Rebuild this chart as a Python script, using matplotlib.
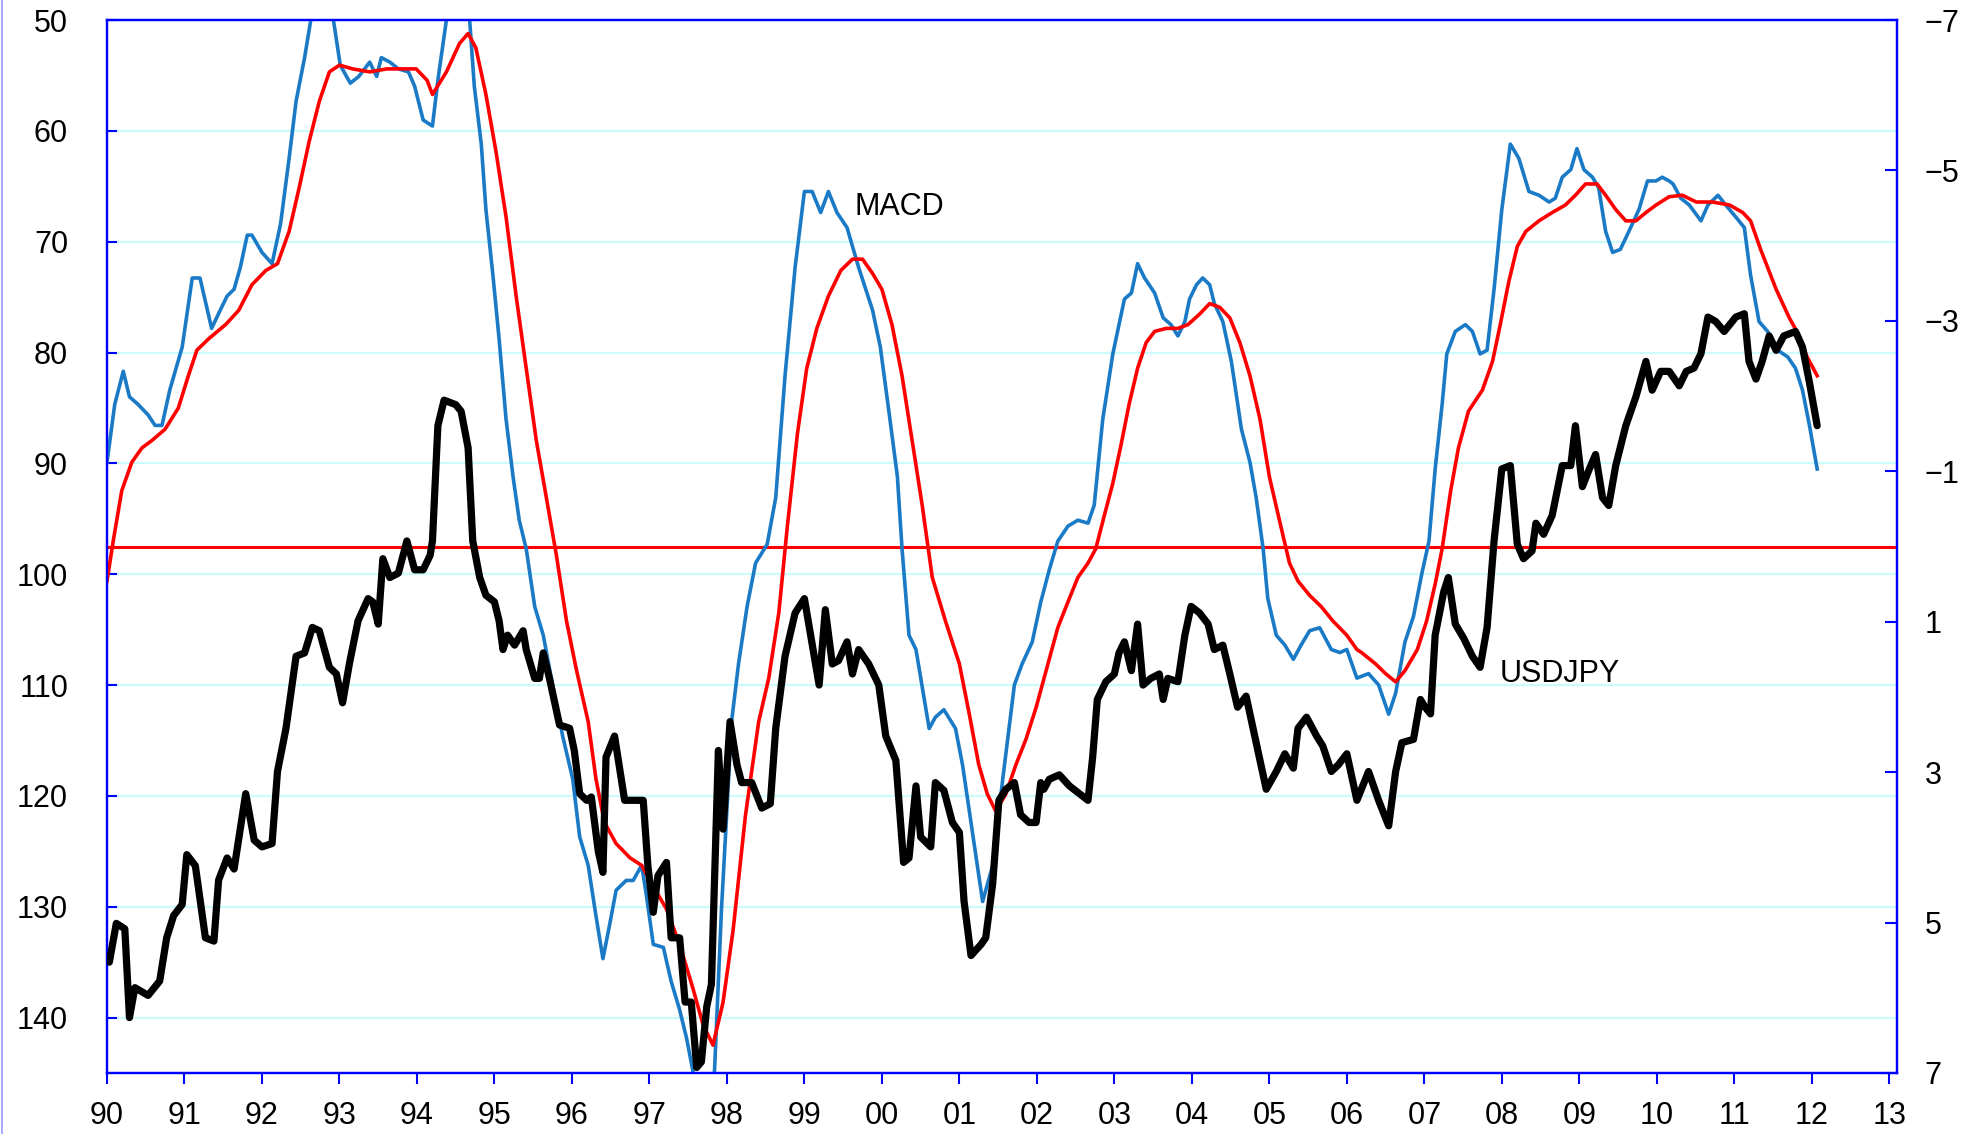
import matplotlib
matplotlib.use("Agg")
import matplotlib.pyplot as plt

# USDJPY (left axis, yen per dollar, inverted)
jpy_t = [1990.00, 1990.03, 1990.12, 1990.23, 1990.29, 1990.36, 1990.53, 1990.68, 1990.77, 1990.86,
         1990.97, 1991.03, 1991.14, 1991.27, 1991.38, 1991.44, 1991.55, 1991.64, 1991.79, 1991.90,
         1992.00, 1992.13, 1992.20, 1992.31, 1992.44, 1992.55, 1992.65, 1992.74, 1992.87, 1992.96,
         1993.04, 1993.13, 1993.24, 1993.37, 1993.43, 1993.50, 1993.56, 1993.65, 1993.76, 1993.87,
         1993.97, 1994.08, 1994.17, 1994.20, 1994.27, 1994.35, 1994.50, 1994.57, 1994.66, 1994.72,
         1994.81, 1994.89, 1995.00, 1995.06, 1995.11, 1995.17, 1995.26, 1995.37, 1995.41, 1995.52,
         1995.58, 1995.63, 1995.71, 1995.84, 1995.97, 1996.03, 1996.10, 1996.19, 1996.25, 1996.34,
         1996.40, 1996.44, 1996.55, 1996.68, 1996.79, 1996.92, 1996.98, 1997.05, 1997.11, 1997.22,
         1997.28, 1997.39, 1997.46, 1997.54, 1997.61, 1997.67, 1997.74, 1997.80, 1997.89, 1997.95,
         1998.04, 1998.13, 1998.19, 1998.32, 1998.45, 1998.56, 1998.63, 1998.75, 1998.88, 1999.00,
         1999.08, 1999.19, 1999.27, 1999.36, 1999.44, 1999.55, 1999.62, 1999.70, 1999.83, 1999.96,
         2000.05, 2000.18, 2000.28, 2000.35, 2000.44, 2000.50, 2000.63, 2000.69, 2000.80, 2000.91,
         2001.00, 2001.06, 2001.15, 2001.28, 2001.34, 2001.43, 2001.51, 2001.60, 2001.71, 2001.79,
         2001.90, 2001.99, 2002.05, 2002.09, 2002.16, 2002.29, 2002.42, 2002.55, 2002.66, 2002.72,
         2002.78, 2002.89, 2003.00, 2003.06, 2003.13, 2003.22, 2003.30, 2003.37, 2003.47, 2003.58,
         2003.63, 2003.69, 2003.82, 2003.91, 2003.99, 2004.10, 2004.21, 2004.29, 2004.40, 2004.49,
         2004.59, 2004.70, 2004.83, 2004.96, 2005.09, 2005.20, 2005.31, 2005.37, 2005.48, 2005.61,
         2005.69, 2005.80, 2005.89, 2006.00, 2006.13, 2006.28, 2006.41, 2006.54, 2006.63, 2006.71,
         2006.86, 2006.95, 2007.01, 2007.08, 2007.14, 2007.25, 2007.31, 2007.40, 2007.51, 2007.62,
         2007.72, 2007.81, 2007.90, 2008.00, 2008.11, 2008.20, 2008.28, 2008.39, 2008.44, 2008.54,
         2008.65, 2008.78, 2008.89, 2008.95, 2009.04, 2009.13, 2009.21, 2009.30, 2009.38, 2009.47,
         2009.60, 2009.73, 2009.86, 2009.94, 2010.05, 2010.16, 2010.29, 2010.38, 2010.48, 2010.57,
         2010.66, 2010.76, 2010.87, 2011.02, 2011.13, 2011.19, 2011.28, 2011.36, 2011.45, 2011.54,
         2011.64, 2011.79, 2011.88, 2011.97, 2012.07]
jpy_v = [134.7, 135.0, 131.5, 132.0, 140.0, 137.3, 138.0, 136.7, 132.8, 130.8,
         129.8, 125.3, 126.3, 132.8, 133.1, 127.6, 125.6, 126.6, 119.8, 124.0,
         124.6, 124.3, 117.8, 113.9, 107.4, 107.1, 104.8, 105.1, 108.4, 109.0,
         111.6, 108.0, 104.2, 102.2, 102.5, 104.5, 98.6, 100.3, 99.9, 97.0,
         99.6, 99.6, 98.3, 97.0, 86.6, 84.3, 84.7, 85.3, 88.6, 97.0,
         100.3, 101.9, 102.5, 104.2, 106.8, 105.5, 106.4, 105.1, 106.8, 109.4,
         109.4, 107.1, 109.4, 113.6, 113.9, 115.9, 119.8, 120.4, 120.1, 125.0,
         126.9, 116.5, 114.6, 120.4, 120.4, 120.4, 126.3, 130.5, 127.2, 126.0,
         132.8, 132.8, 138.6, 138.6, 144.5, 144.0, 139.0, 137.0, 115.9, 123.0,
         113.3, 117.2, 118.8, 118.8, 121.1, 120.7, 113.9, 107.4, 103.5, 102.2,
         105.5, 110.0, 103.2, 108.1, 107.8, 106.1, 109.0, 106.8, 108.1, 110.0,
         114.6, 116.8, 126.0, 125.6, 119.1, 123.7, 124.6, 118.8, 119.5, 122.4,
         123.3, 129.5, 134.4, 133.4, 132.8, 127.9, 120.4, 119.4, 118.8, 121.7,
         122.4, 122.4, 118.8, 119.4, 118.5, 118.1, 119.1, 119.8, 120.4, 116.5,
         111.3, 109.7, 109.0, 107.1, 106.1, 108.7, 104.5, 110.0, 109.4, 109.0,
         111.3, 109.4, 109.7, 105.5, 102.9, 103.5, 104.5, 106.8, 106.4, 109.0,
         112.0, 111.0, 115.2, 119.4, 117.8, 116.2, 117.5, 113.9, 112.9, 114.6,
         115.5, 117.8, 117.2, 116.2, 120.4, 117.8, 120.4, 122.7, 117.8, 115.2,
         114.9, 111.3, 112.0, 112.6, 105.5, 101.6, 100.3, 104.5, 105.8, 107.4,
         108.4, 104.8, 97.0, 90.5, 90.2, 97.3, 98.6, 97.9, 95.4, 96.4,
         94.7, 90.2, 90.2, 86.6, 92.1, 90.5, 89.2, 93.1, 93.8, 90.2,
         86.6, 84.0, 80.8, 83.4, 81.7, 81.7, 83.0, 81.7, 81.4, 80.1,
         76.8, 77.2, 78.1, 76.8, 76.5, 80.8, 82.4, 80.8, 78.5, 79.8,
         78.5, 78.1, 79.5, 82.7, 86.6]

# MACD (right axis)
macd_t = [1990.00, 1990.10, 1990.21, 1990.29, 1990.40, 1990.53, 1990.62, 1990.71, 1990.81, 1990.97,
          1991.10, 1991.20, 1991.35, 1991.46, 1991.55, 1991.64, 1991.72, 1991.81, 1991.87, 1992.00,
          1992.13, 1992.24, 1992.35, 1992.44, 1992.55, 1992.63, 1992.75, 1992.85, 1992.94, 1993.01,
          1993.14, 1993.25, 1993.39, 1993.48, 1993.54, 1993.65, 1993.76, 1993.89, 1993.97, 1994.08,
          1994.20, 1994.27, 1994.38, 1994.47, 1994.58, 1994.68, 1994.74, 1994.83, 1994.89, 1994.98,
          1995.06, 1995.15, 1995.24, 1995.32, 1995.41, 1995.52, 1995.63, 1995.75, 1995.88, 1996.01,
          1996.10, 1996.21, 1996.31, 1996.40, 1996.49, 1996.57, 1996.70, 1996.79, 1996.90, 1996.96,
          1997.05, 1997.18, 1997.28, 1997.39, 1997.48, 1997.56, 1997.65, 1997.75, 1997.84, 1997.93,
          1998.00, 1998.06, 1998.15, 1998.26, 1998.37, 1998.52, 1998.63, 1998.75, 1998.88, 1999.00,
          1999.10, 1999.21, 1999.31, 1999.42, 1999.55, 1999.70, 1999.88, 1999.98, 2000.09, 2000.20,
          2000.26, 2000.35, 2000.44, 2000.61, 2000.69, 2000.80, 2000.95, 2001.04, 2001.15, 2001.30,
          2001.43, 2001.56, 2001.71, 2001.81, 2001.94, 2002.05, 2002.16, 2002.27, 2002.40, 2002.53,
          2002.66, 2002.74, 2002.85, 2002.98, 2003.13, 2003.22, 2003.30, 2003.39, 2003.52, 2003.63,
          2003.73, 2003.82, 2003.91, 2003.97, 2004.06, 2004.14, 2004.23, 2004.29, 2004.40, 2004.51,
          2004.64, 2004.75, 2004.83, 2004.92, 2004.98, 2005.09, 2005.20, 2005.31, 2005.41, 2005.52,
          2005.65, 2005.80, 2005.91, 2006.00, 2006.13, 2006.28, 2006.41, 2006.54, 2006.63, 2006.75,
          2006.86, 2006.97, 2007.06, 2007.14, 2007.23, 2007.29, 2007.40, 2007.53, 2007.62, 2007.72,
          2007.81, 2007.90, 2008.00, 2008.11, 2008.22, 2008.35, 2008.48, 2008.61, 2008.69, 2008.78,
          2008.89, 2008.97, 2009.06, 2009.17, 2009.25, 2009.34, 2009.43, 2009.53, 2009.64, 2009.77,
          2009.88, 2009.99, 2010.07, 2010.16, 2010.21, 2010.31, 2010.42, 2010.57, 2010.66, 2010.79,
          2010.89, 2011.02, 2011.13, 2011.21, 2011.32, 2011.43, 2011.56, 2011.69, 2011.79, 2011.88,
          2011.97, 2012.07]
macd_v = [-1.12, -1.89, -2.33, -1.99, -1.89, -1.75, -1.61, -1.61, -2.08, -2.65,
          -3.57, -3.57, -2.90, -3.14, -3.33, -3.42, -3.71, -4.14, -4.14, -3.91,
          -3.76, -4.29, -5.16, -5.92, -6.50, -7.00, -7.50, -7.45, -6.88, -6.40,
          -6.16, -6.25, -6.44, -6.25, -6.50, -6.44, -6.35, -6.31, -6.12, -5.67,
          -5.59, -6.20, -7.00, -7.45, -7.45, -7.00, -6.12, -5.35, -4.48, -3.61,
          -2.76, -1.69, -0.93, -0.35, 0.03, 0.80, 1.18, 1.84, 2.52, 3.09,
          3.86, 4.24, 4.91, 5.48, 5.01, 4.57, 4.44, 4.44, 4.24, 4.63,
          5.29, 5.33, 5.78, 6.16, 6.54, 6.97, 7.45, 7.45, 6.97, 4.82,
          3.50, 2.33, 1.56, 0.80, 0.22, -0.03, -0.65, -2.27, -3.71, -4.72,
          -4.72, -4.44, -4.72, -4.44, -4.24, -3.71, -3.14, -2.65, -1.80, -0.93,
          0.03, 1.18, 1.37, 2.42, 2.27, 2.17, 2.42, 2.90, 3.67, 4.72,
          4.24, 3.09, 1.84, 1.56, 1.27, 0.74, 0.31, -0.07, -0.27, -0.35,
          -0.31, -0.55, -1.69, -2.56, -3.29, -3.37, -3.76, -3.57, -3.37, -3.04,
          -2.95, -2.80, -2.99, -3.29, -3.48, -3.57, -3.48, -3.23, -2.99, -2.46,
          -1.56, -1.12, -0.65, 0.03, 0.69, 1.18, 1.31, 1.50, 1.31, 1.12,
          1.08, 1.37, 1.41, 1.37, 1.75, 1.69, 1.84, 2.23, 1.95, 1.27,
          0.93, 0.35, -0.07, -1.03, -1.89, -2.56, -2.86, -2.95, -2.86, -2.56,
          -2.61, -3.42, -4.48, -5.35, -5.16, -4.72, -4.67, -4.58, -4.63, -4.91,
          -5.01, -5.29, -5.01, -4.91, -4.77, -4.19, -3.91, -3.95, -4.19, -4.48,
          -4.86, -4.86, -4.91, -4.86, -4.82, -4.63, -4.54, -4.33, -4.54, -4.67,
          -4.54, -4.38, -4.24, -3.61, -2.99, -2.86, -2.61, -2.52, -2.37, -2.08,
          -1.61, -1.03]

# signal line (right axis)
sig_t = [1990.00, 1990.08, 1990.19, 1990.32, 1990.45, 1990.58, 1990.75, 1990.92, 1991.05, 1991.16,
         1991.31, 1991.53, 1991.70, 1991.87, 1992.05, 1992.20, 1992.35, 1992.48, 1992.61, 1992.74,
         1992.87, 1993.00, 1993.17, 1993.39, 1993.61, 1993.82, 1993.99, 1994.13, 1994.20, 1994.38,
         1994.55, 1994.66, 1994.76, 1994.89, 1995.02, 1995.15, 1995.28, 1995.41, 1995.54, 1995.67,
         1995.80, 1995.93, 1996.06, 1996.21, 1996.31, 1996.42, 1996.57, 1996.75, 1996.90, 1997.05,
         1997.22, 1997.39, 1997.56, 1997.69, 1997.82, 1997.95, 1998.08, 1998.24, 1998.41, 1998.54,
         1998.67, 1998.78, 1998.91, 1999.03, 1999.16, 1999.31, 1999.47, 1999.62, 1999.75, 1999.88,
         2000.00, 2000.13, 2000.26, 2000.39, 2000.52, 2000.65, 2000.82, 2001.00, 2001.13, 2001.25,
         2001.36, 2001.47, 2001.60, 2001.73, 2001.86, 2001.99, 2002.12, 2002.27, 2002.40, 2002.53,
         2002.66, 2002.76, 2002.87, 2002.98, 2003.09, 2003.19, 2003.30, 2003.41, 2003.52, 2003.67,
         2003.82, 2003.95, 2004.10, 2004.23, 2004.36, 2004.49, 2004.62, 2004.75, 2004.88, 2005.00,
         2005.13, 2005.26, 2005.37, 2005.52, 2005.67, 2005.82, 2006.00, 2006.13, 2006.19, 2006.37,
         2006.50, 2006.63, 2006.75, 2006.91, 2007.03, 2007.14, 2007.23, 2007.34, 2007.44, 2007.57,
         2007.75, 2007.88, 2007.98, 2008.09, 2008.20, 2008.31, 2008.48, 2008.65, 2008.82, 2008.95,
         2009.08, 2009.23, 2009.34, 2009.47, 2009.60, 2009.73, 2009.86, 2009.99, 2010.16, 2010.33,
         2010.51, 2010.72, 2010.94, 2011.11, 2011.21, 2011.34, 2011.54, 2011.71, 2011.84, 2011.94,
         2012.07]
sig_v = [0.46, -0.07, -0.74, -1.12, -1.31, -1.41, -1.56, -1.84, -2.27, -2.61,
         -2.76, -2.95, -3.14, -3.48, -3.67, -3.76, -4.19, -4.77, -5.39, -5.92,
         -6.31, -6.40, -6.35, -6.31, -6.35, -6.35, -6.35, -6.20, -6.01, -6.31,
         -6.69, -6.82, -6.63, -6.01, -5.25, -4.38, -3.33, -2.37, -1.41, -0.65,
         0.12, 0.99, 1.65, 2.33, 3.09, 3.67, 3.95, 4.14, 4.24, 4.52,
         4.82, 5.29, 5.87, 6.35, 6.63, 6.06, 5.10, 3.57, 2.33, 1.75,
         0.88, -0.27, -1.50, -2.37, -2.90, -3.33, -3.67, -3.82, -3.82, -3.63,
         -3.42, -2.95, -2.27, -1.41, -0.55, 0.41, 0.99, 1.56, 2.24, 2.90,
         3.29, 3.52, 3.29, 2.90, 2.56, 2.14, 1.65, 1.08, 0.74, 0.41,
         0.22, 0.03, -0.41, -0.84, -1.37, -1.89, -2.37, -2.71, -2.86, -2.90,
         -2.90, -2.95, -3.09, -3.23, -3.18, -3.04, -2.71, -2.27, -1.69, -0.93,
         -0.35, 0.22, 0.46, 0.65, 0.80, 0.99, 1.18, 1.37, 1.41, 1.56,
         1.69, 1.80, 1.65, 1.37, 0.99, 0.50, 0.03, -0.74, -1.31, -1.80,
         -2.08, -2.46, -2.95, -3.52, -3.99, -4.19, -4.33, -4.44, -4.54, -4.67,
         -4.82, -4.82, -4.67, -4.48, -4.33, -4.33, -4.44, -4.54, -4.65, -4.67,
         -4.58, -4.58, -4.54, -4.44, -4.33, -3.95, -3.42, -3.04, -2.80, -2.52,
         -2.27]

left_ticks = [50, 60, 70, 80, 90, 100, 110, 120, 130, 140]
right_ticks = [-7, -5, -3, -1, 1, 3, 5, 7]
year_ticks = list(range(1990, 2014))
year_labels = ["%02d" % (y % 100) for y in year_ticks]

plt.rcParams["font.family"] = ["Liberation Sans", "DejaVu Sans"]
BLUE_AX = "#0000ff"

fig = plt.figure(figsize=(19.75, 11.34), dpi=100)
ax = fig.add_axes([107 / 1975, 1 - 1073 / 1134, (1897 - 107) / 1975, (1073 - 20) / 1134])

# left axis: grid + ticks
ax.set_ylim(145, 50)
ax.set_xlim(1990, 2013.1)
ax.set_yticks(left_ticks)
ax.yaxis.grid(True, color="#ccfbfb", linewidth=1.6)
ax.set_axisbelow(True)
ax.set_xticks(year_ticks)
ax.set_xticklabels(year_labels)
ax.tick_params(axis="y", direction="in", length=7, width=1.5, color=BLUE_AX,
               labelsize=22, pad=28)
ax.tick_params(axis="x", direction="out", length=8, width=1.5, color=BLUE_AX,
               labelsize=22, pad=12)
for s in ax.spines.values():
    s.set_color(BLUE_AX)
    s.set_linewidth(1.6)

# right axis: MACD + signal
ax2 = ax.twinx()
ax2.set_ylim(7, -7)
ax2.set_yticks(right_ticks)
ax2.tick_params(axis="y", direction="in", length=9, width=1.5, color=BLUE_AX,
                labelsize=22, pad=20)
for s in ax2.spines.values():
    s.set_color(BLUE_AX)
    s.set_linewidth(1.6)
ax2.axhline(0, color="#ff0000", linewidth=2.2)
ax2.plot(macd_t, macd_v, color="#1a7ac6", linewidth=2.6, solid_joinstyle="round")
ax2.plot(sig_t, sig_v, color="#ff0000", linewidth=2.6, solid_joinstyle="round")

# USDJPY on top
ax3 = ax.twinx()
ax3.set_ylim(145, 50)
ax3.set_yticks([])
for s in ax3.spines.values():
    s.set_visible(False)
ax3.plot(jpy_t, jpy_v, color="black", linewidth=5.2, solid_joinstyle="round",
         solid_capstyle="round")

ax3.text(1999.65, 66.9, "MACD", fontsize=22, va="center", ha="left")
ax3.text(2007.97, 109.0, "USDJPY", fontsize=22, va="center", ha="left")

fig.add_artist(plt.Line2D([0.0008, 0.0008], [0, 1], color="#9999ff", linewidth=1.2))

fig.savefig("out.png", dpi=100)
